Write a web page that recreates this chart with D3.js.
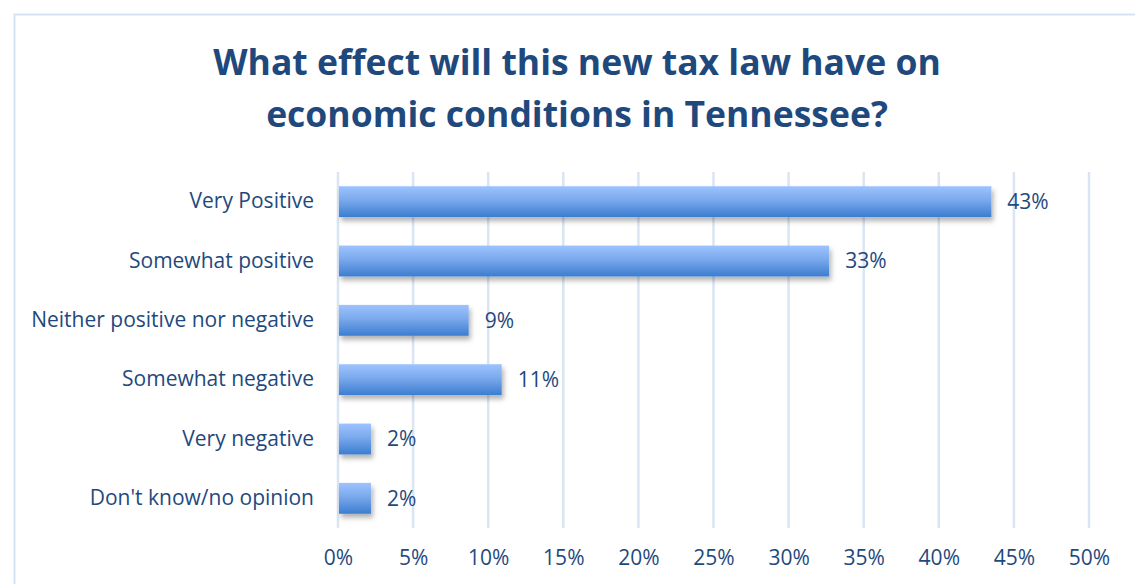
<!DOCTYPE html>
<html>
<head>
<meta charset="UTF-8">
<title>Tax law effect</title>
<script src="https://d3js.org/d3.v7.min.js"></script>
<style>
  body { margin: 0; background: #fff; }
  text { font-family: "Open Sans", Lato, sans-serif; }
</style>
</head>
<body>
<div id="chart"></div>
<script>
// data
let categories = ["Very Positive", "Somewhat positive", "Neither positive nor negative",
                  "Somewhat negative", "Very negative", "Don't know/no opinion"];
let values = [43.5, 32.7, 8.7, 10.9, 2.2, 2.2];
let valueLabels = ["43%", "33%", "9%", "11%", "2%", "2%"];
let xTicks = [0, 5, 10, 15, 20, 25, 30, 35, 40, 45, 50];
let titleLines = ["What effect will this new tax law have on", "economic conditions in Tennessee?"];

let width = 1135, height = 584;
let textColor = "#1f497d";
let font = "'Open Sans', Lato, sans-serif";

let svg = d3.select("#chart").append("svg")
    .attr("width", width)
    .attr("height", height);

let defs = svg.append("defs");
let grad = defs.append("linearGradient")
    .attr("id", "barGrad")
    .attr("x1", 0).attr("y1", 0).attr("x2", 0).attr("y2", 1);
grad.append("stop").attr("offset", "0%").attr("stop-color", "#9dc3ff");
grad.append("stop").attr("offset", "45%").attr("stop-color", "#7aa9ec");
grad.append("stop").attr("offset", "100%").attr("stop-color", "#3b7dd0");

let shadow = defs.append("filter").attr("id", "shadow")
    .attr("x", "-10%").attr("y", "-20%").attr("width", "130%").attr("height", "160%");
shadow.append("feDropShadow")
    .attr("dx", 2).attr("dy", 4).attr("stdDeviation", 2.5)
    .attr("flood-color", "#000").attr("flood-opacity", 0.3);

// frame (top + left edges only visible)
svg.append("path")
    .attr("d", "M14.5," + height + " L14.5,14.5 L" + width + ",14.5")
    .attr("fill", "none")
    .attr("stroke", "#d5e3f5")
    .attr("stroke-width", 2);

// title
svg.append("text")
    .attr("text-anchor", "middle")
    .attr("fill", textColor)
    .attr("font-size", 35.5)
    .attr("font-weight", "bold")
    .selectAll("tspan")
    .data(titleLines)
    .join("tspan")
    .attr("x", 577)
    .attr("y", (d, i) => 75 + i * 52)
    .text(d => d);

let x = d3.scaleLinear().domain([0, 50]).range([338, 1089]);
let y = d3.scaleBand().domain(categories).range([172, 528])
    .paddingInner(0.48).paddingOuter(0.24);

// grid lines
svg.append("g")
    .selectAll("line")
    .data(xTicks)
    .join("line")
    .attr("x1", d => x(d)).attr("x2", d => x(d))
    .attr("y1", 172).attr("y2", 528)
    .attr("stroke", "#dae5f3")
    .attr("stroke-width", 2.5);

// bars
svg.append("g")
    .selectAll("rect")
    .data(values)
    .join("rect")
    .attr("x", x(0) + 1)
    .attr("y", (d, i) => y(categories[i]))
    .attr("width", d => x(d) - x(0) - 1)
    .attr("height", y.bandwidth())
    .attr("fill", "url(#barGrad)")
    .attr("filter", "url(#shadow)");

// value labels
svg.append("g")
    .selectAll("text")
    .data(values)
    .join("text")
    .attr("x", d => x(d) + 16)
    .attr("y", (d, i) => y(categories[i]) + y.bandwidth() / 2)
    .attr("dy", "0.35em")
    .attr("fill", textColor)
    .attr("font-size", 21)
    .text((d, i) => valueLabels[i]);

// category axis
let yAxis = svg.append("g")
    .attr("transform", "translate(338,0)")
    .call(d3.axisLeft(y).tickSize(0).tickPadding(24));
yAxis.select(".domain").remove();
yAxis.selectAll("text")
    .attr("fill", textColor)
    .attr("font-size", 21)
    .style("font-family", font);

// value axis
let xAxis = svg.append("g")
    .attr("transform", "translate(0,545)")
    .call(d3.axisBottom(x).tickValues(xTicks).tickSize(0).tickPadding(5)
        .tickFormat(d => d + "%"));
xAxis.select(".domain").remove();
xAxis.selectAll("text")
    .attr("fill", textColor)
    .attr("font-size", 21)
    .style("font-family", font);
</script>
</body>
</html>
